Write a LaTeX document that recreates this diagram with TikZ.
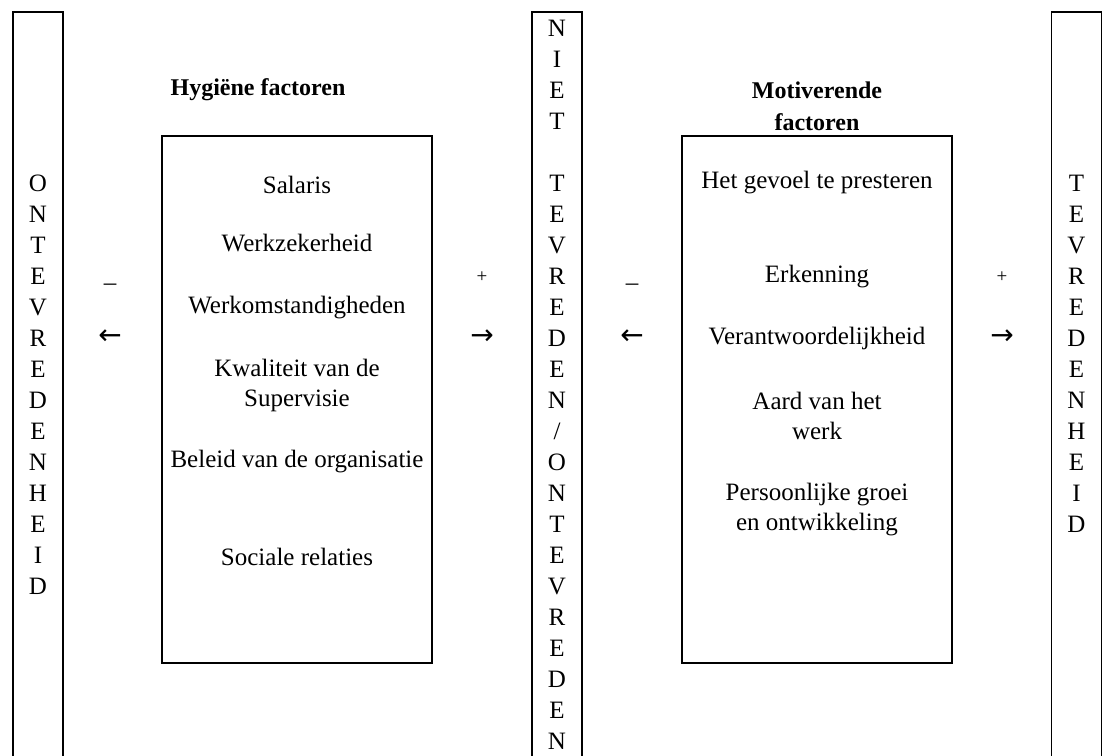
\documentclass[tikz,border=0pt]{standalone}
\usepackage{fontspec}
\setmainfont{Liberation Serif}
\newfontfamily\arrowfont{DejaVu Sans}
\usetikzlibrary{positioning}
\tikzset{
  colbox/.style={
    draw,
    line width=0.9pt,
    minimum width=25pt,
    minimum height=420pt,
    anchor=north,
    inner sep=0pt
  },
  factorbox/.style={
    draw,
    line width=0.9pt,
    minimum width=135pt,
    minimum height=263.5pt,
    inner sep=0pt
  },
  letters/.style={
    align=center,
    inner sep=0pt,
    font=\fontsize{12.5}{15.5}\selectfont
  },
  factor/.style={
    align=center,
    inner sep=0pt,
    font=\fontsize{12.5}{15}\selectfont
  },
  heading/.style={
    align=center,
    inner sep=0pt,
    font=\fontsize{12}{16}\selectfont\bfseries
  },
  plus/.style={inner sep=0pt, font=\fontsize{9.5}{10}\selectfont},
  minus/.style={inner sep=0pt, font=\fontsize{12.5}{15}\selectfont},
  pijl/.style={inner sep=0pt, font=\arrowfont\fontsize{14}{15}\selectfont}
}

\begin{document}
\begin{tikzpicture}[x=0.5pt,y=-0.5pt]
    \path[use as bounding box,clip] (0,0) rectangle (1102,755);

    % kolommen
    \path{
      node[colbox] (ontevr) at (38,11) {}
      node[colbox] (neutraal) at (557,11) {}
      node[colbox] (tevr) at (1076.5,11) {}
      node[letters] (ontevr_txt) at (38,384.5)
        {O\\N\\T\\E\\V\\R\\E\\D\\E\\N\\H\\E\\I\\D}
      node[letters] (neutraal_txt) at (557,385)
        {N\\I\\E\\T\\\strut\\T\\E\\V\\R\\E\\D\\E\\N\\/\\O\\N\\T\\E\\V\\R\\E\\D\\E\\N}
      node[letters] (tevr_txt) at (1076.5,353.5)
        {T\\E\\V\\R\\E\\D\\E\\N\\H\\E\\I\\D}
    };

    % hygiene factoren
    \path{
      node[heading] (hyg_title) at (258,90) {Hygiëne factoren}
      node[factorbox] (hyg) at (297,399.5) {}
      node[factor] (h_1) at (297,185) {Salaris}
      node[factor] (h_2) at (297,243) {Werkzekerheid}
      node[factor] (h_3) at (297,308) {Werkomstandigheden}
      node[factor] (h_4) at (297,385) {Kwaliteit van de\\Supervisie}
      node[factor] (h_5) at (297,462) {Beleid van de organisatie}
      node[factor] (h_6) at (297,557) {Sociale relaties}
    };

    % motiverende factoren
    \path{
      node[heading] (mot_title) at (817,106) {Motiverende\\factoren}
      node[factorbox] (mot) at (817,399.5) {}
      node[factor] (m_1) at (817,183) {Het gevoel te presteren}
      node[factor] (m_2) at (817,277) {Erkenning}
      node[factor] (m_3) at (817,338) {Verantwoordelijkheid}
      node[factor] (m_4) at (817,416) {Aard van het\\werk}
      node[factor] (m_5) at (817,510) {Persoonlijke groei\\en ontwikkeling}
    };

    % plus en min
    \path{
      node[minus] (min_l) at (110,287) {–}
      node[pijl] (links_l) at (110,337) {←}
      node[plus] (plus_l) at (482,277) {+}
      node[pijl] (rechts_l) at (482,337) {→}
      node[minus] (min_r) at (632,287) {–}
      node[pijl] (links_r) at (632,337) {←}
      node[plus] (plus_r) at (1002,277) {+}
      node[pijl] (rechts_r) at (1002,337) {→}
    };
\end{tikzpicture}
\end{document}
